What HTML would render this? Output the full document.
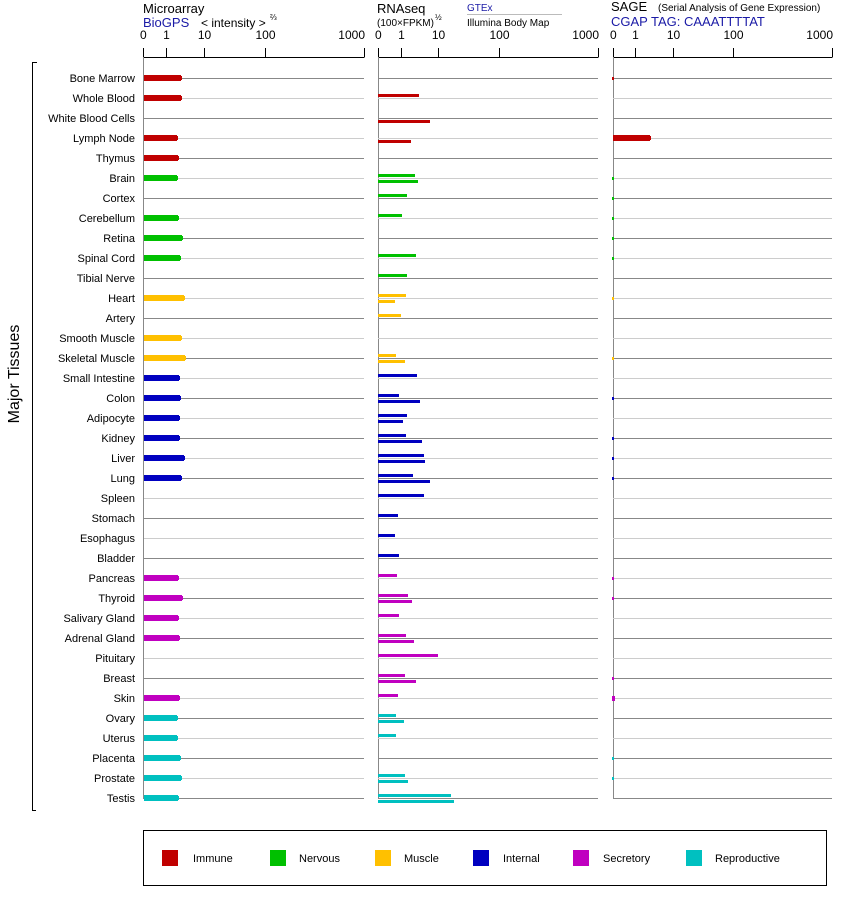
<!DOCTYPE html>
<html><head><meta charset="utf-8"><style>
body{margin:0;background:#fff}
svg{display:block;font-family:"Liberation Sans",Arial,sans-serif}
</style></head><body>
<svg id="s" width="842" height="900" xmlns="http://www.w3.org/2000/svg">
<rect width="842" height="900" fill="#fff"/>
<!-- headers -->
<text x="143" y="13" font-size="13">Microarray</text>
<text x="143" y="27" font-size="13" fill="#1a1aa6">BioGPS</text>
<text x="201" y="27" font-size="12">&lt; intensity &gt;</text>
<text x="270" y="20" font-size="8">⅔</text>
<text x="377" y="13" font-size="13">RNAseq</text>
<text x="377" y="26" font-size="10">(100×FPKM)</text>
<text x="435" y="20" font-size="8">½</text>
<text x="467" y="11" font-size="10" fill="#1a1aa6">GTEx</text>
<line x1="467" y1="14.5" x2="562" y2="14.5" stroke="#bbb"/>
<text x="467" y="26" font-size="10">Illumina Body Map</text>
<text x="611" y="11" font-size="13">SAGE</text>
<text x="658" y="11" font-size="10">(Serial Analysis of Gene Expression)</text>
<text x="611" y="26" font-size="13" fill="#1a1aa6">CGAP TAG: CAAATTTTAT</text>
<g id="axes" stroke="#000" stroke-width="1"></g>
<g id="rows"></g>
<g id="bars"></g>
<!-- bracket -->
<path d="M37 62.5H32.5V810.5H36" fill="none" stroke="#000"/>
<text transform="translate(19,374) rotate(-90)" font-size="16" text-anchor="middle">Major Tissues</text>
<!-- legend -->
<rect x="143.5" y="830.5" width="683" height="55" fill="none" stroke="#000"/>
<g font-size="11">
<rect x="162" y="850" width="16" height="16" fill="#c00000"/><text x="193" y="862">Immune</text>
<rect x="270" y="850" width="16" height="16" fill="#00c000"/><text x="299" y="862">Nervous</text>
<rect x="375" y="850" width="16" height="16" fill="#ffc000"/><text x="404" y="862">Muscle</text>
<rect x="473" y="850" width="16" height="16" fill="#0000c0"/><text x="503" y="862">Internal</text>
<rect x="573" y="850" width="16" height="16" fill="#c000c0"/><text x="603" y="862">Secretory</text>
<rect x="686" y="850" width="16" height="16" fill="#00c0c0"/><text x="715" y="862">Reproductive</text>
</g>
</svg>
<script>
var NS="http://www.w3.org/2000/svg",s=document.getElementById("s");
function el(t,a,p,txt){var e=document.createElementNS(NS,t);for(var k in a)e.setAttribute(k,a[k]);if(txt!==undefined)e.textContent=txt;(p||s).appendChild(e);return e;}
var C={R:"#c00000",G:"#00c000",Y:"#ffc000",B:"#0000c0",M:"#c000c0",T:"#00c0c0"};
var rows=[
["Bone Marrow","R",181,0,0,"t"],["Whole Blood","R",181,419,0,0],["White Blood Cells","R",0,0,430,0],["Lymph Node","R",177,0,411,650],["Thymus","R",178,0,0,0],
["Brain","G",177,415,418,"t"],["Cortex","G",0,407,0,"t"],["Cerebellum","G",178,402,0,"t"],["Retina","G",182,0,0,"t"],["Spinal Cord","G",180,416,0,"t"],["Tibial Nerve","G",0,407,0,0],
["Heart","Y",184,406,395,"t"],["Artery","Y",0,401,0,0],["Smooth Muscle","Y",181,0,0,0],["Skeletal Muscle","Y",185,396,405,"t"],
["Small Intestine","B",179,417,0,0],["Colon","B",180,399,420,"t"],["Adipocyte","B",179,407,403,0],["Kidney","B",179,406,422,"t"],["Liver","B",184,424,425,"t"],["Lung","B",181,413,430,"t"],["Spleen","B",0,424,0,0],["Stomach","B",0,398,0,0],["Esophagus","B",0,395,0,0],["Bladder","B",0,399,0,0],
["Pancreas","M",178,397,0,"t"],["Thyroid","M",182,408,412,"t"],["Salivary Gland","M",178,399,0,0],["Adrenal Gland","M",179,406,414,0],["Pituitary","M",0,438,0,0],["Breast","M",0,405,416,"t"],["Skin","M",179,398,0,"d"],
["Ovary","T",177,396,404,0],["Uterus","T",177,396,0,0],["Placenta","T",180,0,0,"t"],["Prostate","T",181,405,408,"t"],["Testis","T",178,451,454,0]];
var ax=document.getElementById("axes"),rg=document.getElementById("rows"),bg=document.getElementById("bars");
var panels=[[143,[166,204,265],364],[378,[401,438,499],598],[613,[635,673,733],832]];
panels.forEach(function(p){
 var x0=p[0]+0.5;
 el("line",{x1:x0,y1:57.5,x2:p[2]+0.5,y2:57.5},ax);
 el("line",{x1:x0,y1:48,x2:x0,y2:57},ax);
 el("line",{x1:x0,y1:57,x2:x0,y2:799,stroke:"#888"},ax);
 el("line",{x1:p[2]+0.5,y1:48,x2:p[2]+0.5,y2:57},ax);
 el("text",{x:p[0]-3,y:39,"font-size":12,stroke:"none"},s,"0");
 ["1","10","100"].forEach(function(l,i){var x=p[1][i]+0.5;el("line",{x1:x,y1:48,x2:x,y2:57},ax);el("text",{x:x,y:39,"font-size":12,"text-anchor":"middle"},s,l);});
 el("text",{x:p[2]+1,y:39,"font-size":12,"text-anchor":"end"},s,"1000");
});
rows.forEach(function(r,i){
 var y=78+20*i,col=C[r[1]],lc=i%2?"#ccc":"#888";
 el("text",{x:135,y:y+4,"font-size":11,"text-anchor":"end"},rg,r[0]);
 [[144,364],[378,598],[613,832]].forEach(function(a){el("line",{x1:a[0],y1:y+0.5,x2:a[1],y2:y+0.5,stroke:lc},rg);});
 if(r[2]){el("rect",{x:144,y:y-3,width:r[2]-144,height:6,fill:col},bg);el("rect",{x:r[2]-1,y:y-2,width:2,height:4,fill:col},bg);}
 if(r[3])el("rect",{x:378,y:y-4,width:r[3]-378,height:3,fill:col},bg);
 if(r[4])el("rect",{x:378,y:y+2,width:r[4]-378,height:3,fill:col},bg);
 if(r[5]==="t")el("rect",{x:612,y:y-1,width:2,height:3,fill:col},bg);
 else if(r[5]==="d")el("rect",{x:612,y:y-2,width:3,height:5,fill:col},bg);
 else if(r[5]){el("rect",{x:613,y:y-3,width:r[5]-613,height:6,fill:col},bg);el("rect",{x:r[5]-1,y:y-2,width:2,height:4,fill:col},bg);}
});
</script>
</body></html>
